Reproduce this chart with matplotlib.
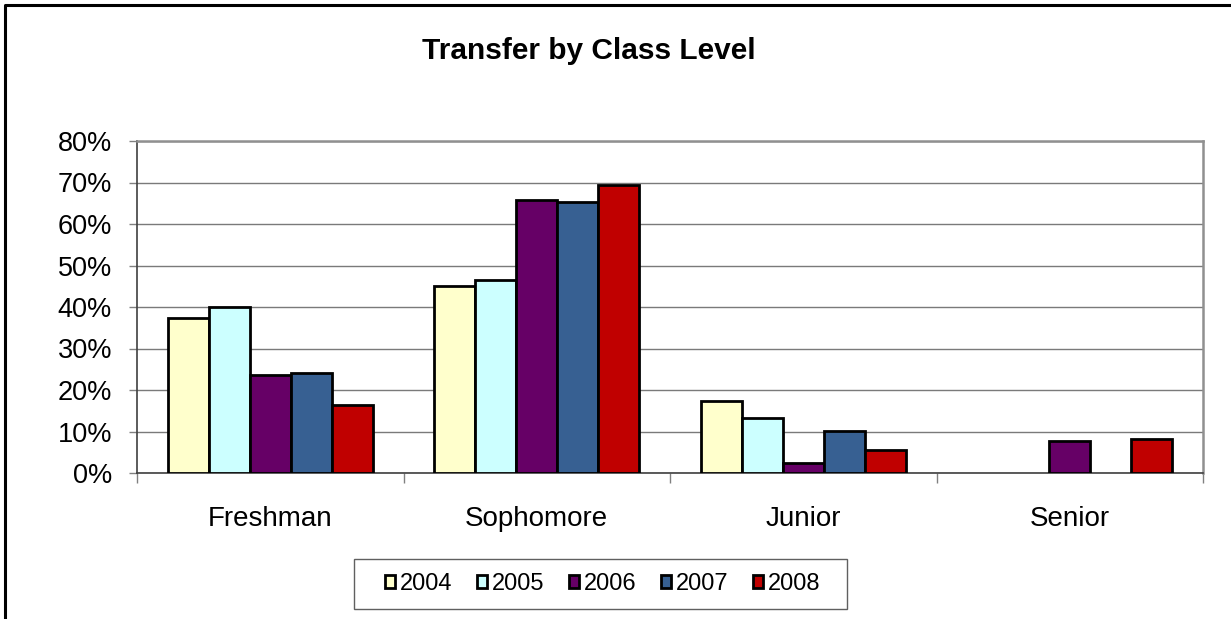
import numpy as np
import matplotlib
matplotlib.use('Agg')
import matplotlib.pyplot as plt
from matplotlib.lines import Line2D
from matplotlib.patches import Rectangle
from matplotlib.ticker import FuncFormatter, FixedLocator

plt.rcParams['font.family'] = ['Liberation Sans', 'DejaVu Sans']

categorias = ['Freshman', 'Sophomore', 'Junior', 'Senior']
anos = ['2004', '2005', '2006', '2007', '2008']
v2004 = [37.4, 45.0, 17.4, 0.0]
v2005 = [40.0, 46.5, 13.3, 0.0]
v2006 = [23.6, 65.7, 2.5, 7.8]
v2007 = [24.0, 65.4, 10.2, 0.0]
v2008 = [16.5, 69.3, 5.5, 8.2]
cores = ['#FFFFCC', '#CCFFFF', '#660066', '#376092', '#C00000']

series = [v2004, v2005, v2006, v2007, v2008]

W, H = 1231, 619
fig = plt.figure(figsize=(W / 100, H / 100), dpi=100)
ax = fig.add_axes([137 / W, 1 - 473 / H, (1203 - 137) / W, (473 - 141) / H])

x = np.arange(len(categorias))
larg = 1 / 6.5
handles = []
for i, (vals, cor) in enumerate(zip(series, cores)):
    b = ax.bar(x + (i - 2) * larg, vals, larg, color=cor, edgecolor='black',
               linewidth=2.0, zorder=3, label=anos[i])
    # barras com valor zero nao aparecem
    for ret, v in zip(b, vals):
        if v == 0:
            ret.set_visible(False)
    handles.append(b)

ax.set_xlim(-0.5, 3.5)
ax.set_ylim(0, 80)
ax.set_yticks(np.arange(0, 81, 10))
ax.yaxis.set_major_formatter(FuncFormatter(lambda v, p: f'{v:.0f}%'))
ax.grid(axis='y', color='#7a7a7a', linewidth=1.0, zorder=0)

# categorias nos centros, ticks nos limites
ax.set_xticks(x)
ax.set_xticklabels(categorias, fontsize=20)
ax.xaxis.set_minor_locator(FixedLocator(np.arange(-0.5, 3.6, 1)))
ax.tick_params(axis='x', which='major', length=0, pad=24)
ax.tick_params(axis='x', which='minor', length=7, color='#808080', width=1)
ax.tick_params(axis='y', length=6, color='#808080', width=1, labelsize=19.5, pad=12)

for s in ['top', 'right']:
    ax.spines[s].set_color('#909090')
    ax.spines[s].set_linewidth(1.8)
ax.spines['left'].set_color('#404040')
ax.spines['bottom'].set_color('#404040')
ax.spines['left'].set_linewidth(1.2)
ax.spines['bottom'].set_linewidth(1.2)

fig.text(589 / W, 1 - 51 / H, 'Transfer by Class Level', ha='center', va='center',
         fontsize=21.5, fontweight='bold')

# legenda
fig.patches.append(Rectangle((354 / W, 1 - 609 / H), 493 / W, 50 / H,
                             transform=fig.transFigure, facecolor='white',
                             edgecolor='#606060', linewidth=1.0))
leg = fig.legend(handles, anos, loc='center', bbox_to_anchor=(603 / W, 1 - 584 / H),
                 ncol=5, frameon=False, fontsize=17, handlelength=0.42,
                 handleheight=0.42, handletextpad=0.2, columnspacing=1.05)

# borda da figura
fig.lines.append(Line2D([5 / W, 5 / W, 1.0], [0.0, 1 - 5 / H, 1 - 5 / H],
                        transform=fig.transFigure, color='black', linewidth=2.2))

fig.savefig('out.png', dpi=100)
